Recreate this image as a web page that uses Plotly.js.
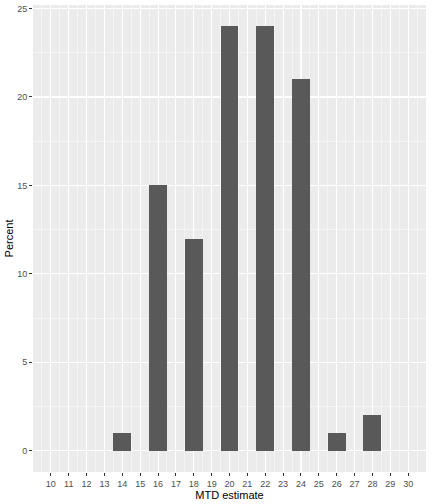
<!DOCTYPE html>
<html>
<head>
<meta charset="utf-8">
<script src="https://cdn.plot.ly/plotly-3.0.1.min.js"></script>
<style>
  html, body { margin: 0; padding: 0; background: #fff; }
  #chart { width: 432px; height: 504px; }
</style>
</head>
<body>
<div id="chart"></div>
<script>
// MTD estimate vs share of runs
var mtd = [14, 16, 18, 20, 22, 24, 26, 28];
var percent = [1, 15, 12, 24, 24, 21, 1, 2];
var xTicks = [10, 11, 12, 13, 14, 15, 16, 17, 18, 19, 20, 21, 22, 23, 24, 25, 26, 27, 28, 29, 30];
var yTicks = [0, 5, 10, 15, 20, 25];

var trace1 = {
  x: mtd,
  y: percent,
  type: "bar",
  width: 1,
  marker: { color: "#595959", line: { width: 0 } },
  hoverinfo: "x+y"
};

var axisFont = { family: "Liberation Sans, Arial, sans-serif", size: 9, color: "#4D4D4D" };

var layout = {
  width: 432,
  height: 504,
  margin: { l: 33, r: 6, t: 5, b: 32 },
  paper_bgcolor: "#ffffff",
  plot_bgcolor: "#EBEBEB",
  showlegend: false,
  bargap: 0,
  font: { family: "Liberation Sans, Arial, sans-serif", size: 11, color: "#000" },
  xaxis: {
    range: [9, 31],
    tickmode: "array",
    tickvals: xTicks,
    ticktext: xTicks.map(String),
    ticks: "outside",
    ticklen: 3,
    tickwidth: 1,
    tickcolor: "#333333",
    tickfont: axisFont,
    showgrid: true,
    gridcolor: "#ffffff",
    gridwidth: 1.1,
    minor: { dtick: 0.5, tick0: 9.5, showgrid: true, gridcolor: "#ffffff", gridwidth: 0.5 },
    zeroline: false,
    showline: false,
    title: { text: "MTD estimate", font: { size: 11, color: "#000" }, standoff: 1 }
  },
  yaxis: {
    range: [-1.2, 25.2],
    tickmode: "array",
    tickvals: yTicks,
    ticktext: yTicks.map(String),
    ticks: "outside",
    ticklen: 3,
    tickwidth: 1,
    tickcolor: "#333333",
    tickfont: axisFont,
    showgrid: true,
    gridcolor: "#ffffff",
    gridwidth: 1.1,
    minor: { dtick: 2.5, tick0: 0, showgrid: true, gridcolor: "#ffffff", gridwidth: 0.5 },
    zeroline: false,
    showline: false,
    title: { text: "Percent", font: { size: 11, color: "#000" }, standoff: 1 }
  }
};

Plotly.newPlot("chart", [trace1], layout, { displayModeBar: false, staticPlot: true });
</script>
</body>
</html>
